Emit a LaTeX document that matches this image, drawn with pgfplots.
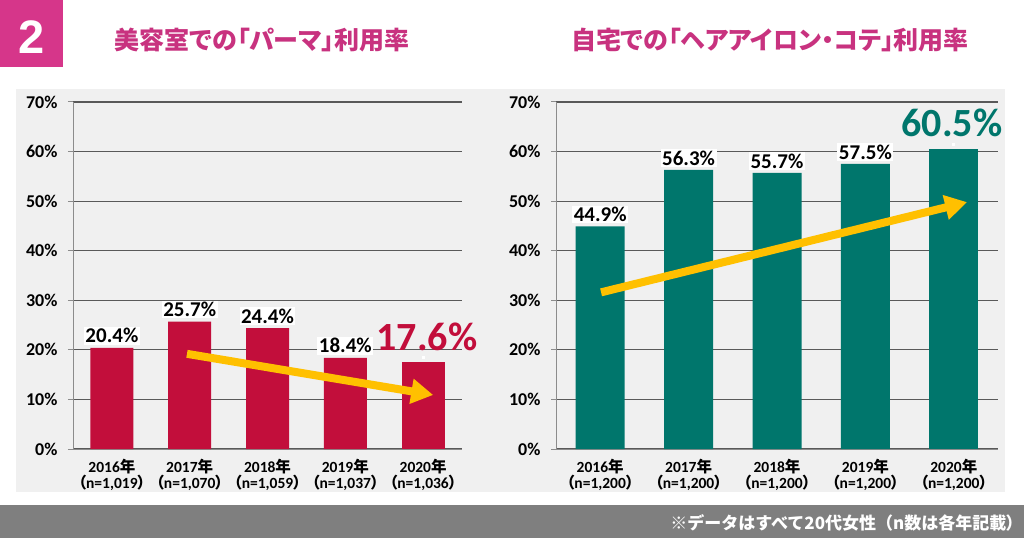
\documentclass[border=0pt]{standalone}
\usepackage{pgfplots}
\pgfplotsset{compat=1.18}
\usetikzlibrary{arrows.meta}
\usepackage{fontspec}
\setmainfont{Carlito}
\newfontfamily\jp{Noto Sans CJK JP}[RawFeature=+palt]
\newfontfamily\jpn{Noto Sans CJK JP}
\newfontfamily\arial{Liberation Sans}
\definecolor{crim}{HTML}{C20E3B}
\definecolor{teal2}{HTML}{00766C}
\definecolor{ttl}{HTML}{C8327F}
\definecolor{pinkbox}{HTML}{D6368A}
\definecolor{panel}{HTML}{F0F0F0}
\definecolor{gridc}{HTML}{595959}
\definecolor{axc}{HTML}{8C8C8C}
\definecolor{arr}{HTML}{FFC000}
\definecolor{foot}{HTML}{7F7F7F}
\newcommand{\fs}[1]{\fontsize{#1}{#1}\selectfont}
\newcommand{\xl}[2]{#1{\jpn 年}\\{\jp （}n=#2{\jp ）}}
\pgfplotsset{
  mybar/.style={
    scale only axis, anchor=south west, height=347pt,
    /pgf/number format/assume math mode=true,
    ymin=0, ymax=70, ytick={0,10,...,70},
    xmin=-0.5, xmax=4.5, xtick={0,...,4},
    axis x line*=bottom, axis y line*=left,
    axis line style={axc, line width=1pt},
    ymajorgrids, grid style={gridc, line width=1.1pt},
    major tick length=5pt, tick align=outside,
    ytick style={axc, line width=1pt}, xtick style={draw=none},
    yticklabel={\pgfmathprintnumber{\tick}\%},
    yticklabel style={font=\bfseries\fs{18}, black, xshift=-7pt},
    xticklabel style={font=\bfseries\fontsize{15.5}{16}\selectfont, align=center, black, inner sep=0pt, yshift=-5pt},
    ybar, bar shift=0pt, clip=false,
    nodes near coords={\pgfmathprintnumber[fixed,fixed zerofill,precision=1]{\pgfplotspointmeta}\%},
    every node near coord/.append style={font=\bfseries\fs{21}, black, fill=white, inner sep=1.5pt, anchor=south, yshift=3pt},
  }
}
\begin{document}
\begin{tikzpicture}[x=1pt,y=1pt]
\useasboundingbox (0,0) rectangle (1024,538);
\fill[white] (0,0) rectangle (1024,538);
\fill[panel] (16,46) rectangle (1005,449);
\fill[foot] (0,0) rectangle (1024,33);
\fill[pinkbox] (0,471) rectangle (63,538);
\node[white] at (32,501) {\arial\bfseries\fs{47}2};
\node[ttl] at (262,498) {\jp\bfseries\fs{25}美容室での「パーマ」利用率};
\node[ttl] at (770,498) {\jp\bfseries\fs{25}自宅での「ヘアアイロン・コテ」利用率};
\node[white, anchor=east, inner sep=0pt] at (1015,15) {\jpn\bfseries\fs{17}※データはすべて20代女性（n数は各年記載{\jp ）}};

\begin{axis}[mybar, at={(73pt,89pt)}, width=389pt, bar width=43pt,
  xticklabels={{\xl{2016}{1,019}},{\xl{2017}{1,070}},{\xl{2018}{1,059}},{\xl{2019}{1,037}},{\xl{2020}{1,036}}}]
\addplot[fill=crim, draw=none] coordinates {(0,20.4) (1,25.7) (2,24.4) (3,18.4)};
\addplot[fill=crim, draw=none, nodes near coords={}] coordinates {(4,17.6)};
\node[crim, font=\bfseries\fs{40}, anchor=south, inner sep=0pt, yshift=11pt] at (axis cs:4.05,17.6) {17.6\%};
\draw[arr, line width=8pt, -{Triangle[width=24pt,length=22pt]}] (axis cs:0.965,19.2) -- (axis cs:4.13,10.9);
\end{axis}

\begin{axis}[mybar, at={(556pt,89pt)}, width=442pt, bar width=49pt,
  xticklabels={{\xl{2016}{1,200}},{\xl{2017}{1,200}},{\xl{2018}{1,200}},{\xl{2019}{1,200}},{\xl{2020}{1,200}}}]
\addplot[fill=teal2, draw=none] coordinates {(0,44.9) (1,56.3) (2,55.7) (3,57.5)};
\addplot[fill=teal2, draw=none, nodes near coords={}] coordinates {(4,60.5)};
\node[teal2, font=\bfseries\fs{40}, anchor=south, inner sep=0pt, yshift=12pt] at (axis cs:3.98,60.5) {60.5\%};
\draw[arr, line width=8pt, -{Triangle[width=24pt,length=22pt]}] (axis cs:0.01,31.6) -- (axis cs:4.15,49.8);
\end{axis}
\end{tikzpicture}
\end{document}
